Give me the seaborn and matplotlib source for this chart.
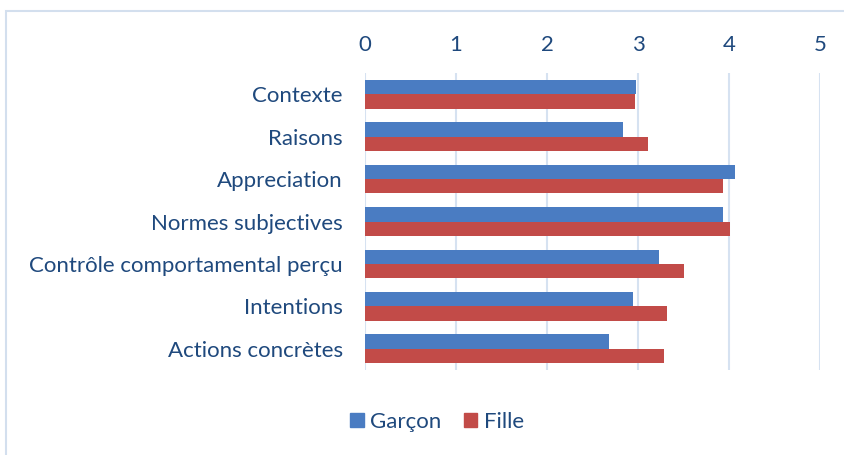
import pandas as pd
import numpy as np
import matplotlib.pyplot as plt
import seaborn as sns
from matplotlib.patches import Rectangle

# Data
categories = ['Contexte', 'Raisons', 'Appreciation', 'Normes subjectives',
              'Contrôle comportamental perçu', 'Intentions', 'Actions concrètes']
garcon = [2.98, 2.84, 4.07, 3.93, 3.23, 2.94, 2.68]
fille = [2.97, 3.11, 3.93, 4.01, 3.50, 3.32, 3.29]
series = ['Garçon', 'Fille']
colors = ['#4A7CC2', '#C24B48']

df = pd.DataFrame({
    'Categorie': categories * 2,
    'Valeur': garcon + fille,
    'Groupe': [series[0]] * len(categories) + [series[1]] * len(categories),
})

sns.set_style('white')
plt.rcParams['font.family'] = ['Lato', 'DejaVu Sans']
text_color = '#1F497D'
fs = 16

fig = plt.figure(figsize=(8.45, 4.55), dpi=100)
ax = fig.add_axes([365 / 845, 1 - 370 / 455, 455 / 845, 297 / 455])

sns.barplot(data=df, y='Categorie', x='Valeur', hue='Groupe', order=categories,
            hue_order=series, palette=colors, orient='h', width=0.68,
            saturation=1, linewidth=0, ax=ax, legend=False)

ax.set_xlim(0, 5)
ax.set_xticks(np.arange(0, 6, 1))
ax.xaxis.tick_top()
ax.grid(axis='x', color='#D6E2F1', linewidth=1.5)
ax.set_axisbelow(True)
ax.set_xlabel('')
ax.set_ylabel('')
for s in ax.spines.values():
    s.set_visible(False)
ax.tick_params(axis='x', colors=text_color, labelsize=fs, length=0, pad=13)
ax.tick_params(axis='y', colors=text_color, labelsize=fs, length=0, pad=16)

# legend at bottom
handles = [Rectangle((0, 0), 1, 1, color=c) for c in colors]
fig.legend(handles, series, loc='center', bbox_to_anchor=(437 / 845, 1 - 422 / 455),
           ncol=2, frameon=False, fontsize=fs, handlelength=0.6, handleheight=0.6,
           handletextpad=0.3, columnspacing=1.0, labelcolor=text_color)

# outer chart frame (partly cut off in the reference)
fig.patches.append(Rectangle((6 / 845, -0.1), 1.1, 1 - 11 / 455 + 0.1,
                             transform=fig.transFigure, fill=False,
                             edgecolor='#D3DFEE', linewidth=1.5))

fig.savefig('out.png', dpi=100)
